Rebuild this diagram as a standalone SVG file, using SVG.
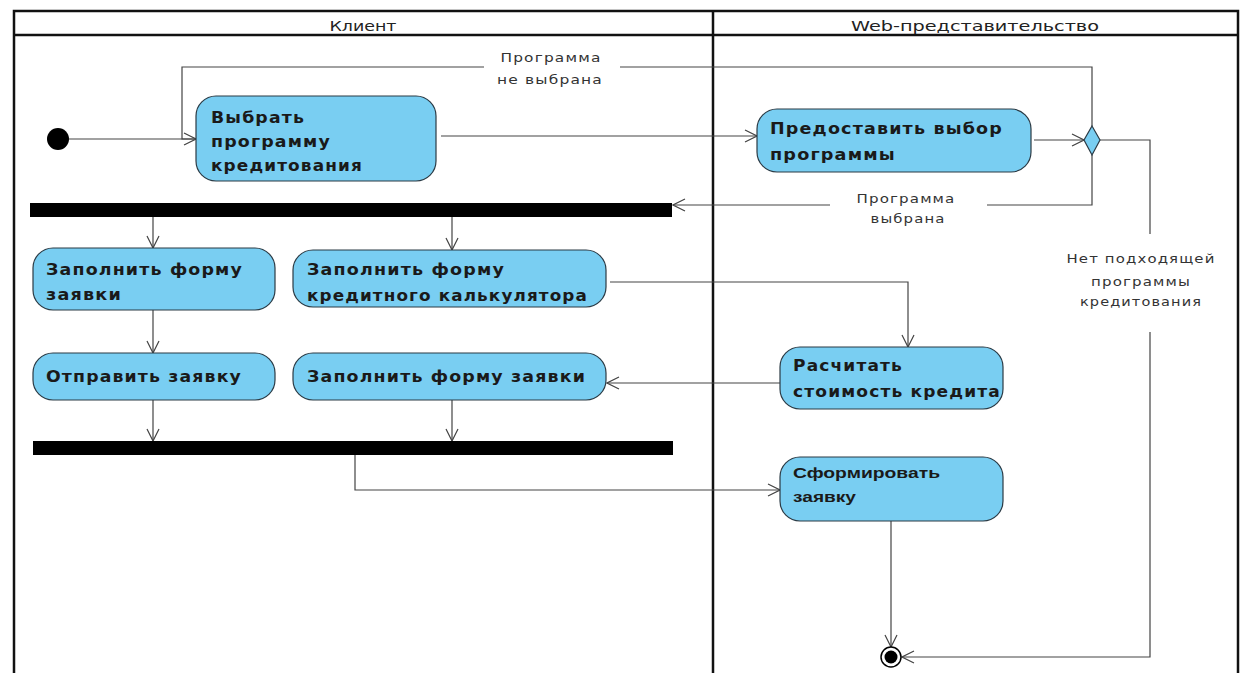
<svg xmlns="http://www.w3.org/2000/svg" width="1249" height="673" viewBox="0 0 1249 673">
  <style>
    .lane { fill: none; stroke: #111; stroke-width: 2.5; }
    .lane-title { font-family: "DejaVu Sans", "Liberation Sans", sans-serif; font-size: 14px; fill: #222; text-anchor: middle; }
    .act { fill: #79cef2; stroke: #2b3a44; stroke-width: 1.2; }
    .act-text { font-family: "DejaVu Sans", "Liberation Sans", sans-serif; font-size: 15px; font-weight: bold; fill: #1a1a1a; letter-spacing: 1px; }
    .act-text-sm { font-family: "Liberation Sans", Arial, sans-serif; font-size: 15px; font-weight: bold; fill: #1a1a1a; }
    .guard { font-family: "DejaVu Sans", "Liberation Sans", sans-serif; font-size: 13px; fill: #333; text-anchor: middle; letter-spacing: 1px; }
    .flow { fill: none; stroke: #444; stroke-width: 1.2; }
    .bar { fill: #000; }
  </style>
  <defs>
    <marker id="open-arrow" markerUnits="userSpaceOnUse" markerWidth="14" markerHeight="14" refX="13" refY="7" orient="auto">
      <path d="M1,1 L13,7 L1,13" fill="none" stroke="#444" stroke-width="1.2"/>
    </marker>
  </defs>

  <!-- swimlanes -->
  <g id="swimlanes">
    <rect x="14" y="11" width="1224" height="680" class="lane"/>
    <line x1="14" y1="35" x2="1238" y2="35" class="lane"/>
    <line x1="713" y1="11" x2="713" y2="673" class="lane"/>
    <text x="363" y="31" class="lane-title" textLength="67" lengthAdjust="spacingAndGlyphs">Клиент</text>
    <text x="975" y="31" class="lane-title" textLength="248" lengthAdjust="spacingAndGlyphs">Web-представительство</text>
  </g>

  <!-- connectors -->
  <g id="connectors">
    <line x1="69" y1="139" x2="196" y2="139" class="flow" marker-end="url(#open-arrow)"/>
    <path d="M1092,126 V67 H620 M484,67 H182 V139 H196" class="flow"/>
    <line x1="441" y1="136" x2="757" y2="136" class="flow" marker-end="url(#open-arrow)"/>
    <line x1="1034" y1="140" x2="1084" y2="140" class="flow" marker-end="url(#open-arrow)"/>
    <path d="M1092,155 V205 H987" class="flow"/>
    <line x1="830" y1="205" x2="673" y2="205" class="flow" marker-end="url(#open-arrow)"/>
    <path d="M1100,140 H1150 V234" class="flow"/>
    <path d="M1150,332 V657 H902" class="flow" marker-end="url(#open-arrow)"/>
    <line x1="153" y1="217" x2="153" y2="248" class="flow" marker-end="url(#open-arrow)"/>
    <line x1="452" y1="217" x2="452" y2="250" class="flow" marker-end="url(#open-arrow)"/>
    <line x1="153" y1="310" x2="153" y2="353" class="flow" marker-end="url(#open-arrow)"/>
    <path d="M610,282 H908 V347" class="flow" marker-end="url(#open-arrow)"/>
    <line x1="780" y1="383" x2="607" y2="383" class="flow" marker-end="url(#open-arrow)"/>
    <line x1="153" y1="400" x2="153" y2="441" class="flow" marker-end="url(#open-arrow)"/>
    <line x1="452" y1="400" x2="452" y2="441" class="flow" marker-end="url(#open-arrow)"/>
    <path d="M355,455 V490 H780" class="flow" marker-end="url(#open-arrow)"/>
    <line x1="891" y1="521" x2="891" y2="647" class="flow" marker-end="url(#open-arrow)"/>
    <text x="551" y="62" class="guard" textLength="101" lengthAdjust="spacingAndGlyphs">Программа</text>
    <text x="550" y="84" class="guard" textLength="106" lengthAdjust="spacingAndGlyphs">не выбрана</text>
    <text x="906" y="203" class="guard" textLength="99" lengthAdjust="spacingAndGlyphs">Программа</text>
    <text x="908" y="223" class="guard" textLength="75" lengthAdjust="spacingAndGlyphs">выбрана</text>
    <text x="1141" y="263" class="guard" textLength="149" lengthAdjust="spacingAndGlyphs">Нет подходящей</text>
    <text x="1141" y="286" class="guard" textLength="100" lengthAdjust="spacingAndGlyphs">программы</text>
    <text x="1141" y="306" class="guard" textLength="122" lengthAdjust="spacingAndGlyphs">кредитования</text>
  </g>

  <g id="start">
    <circle cx="58" cy="139" r="11" fill="#000"/>
  </g>

  <g id="choose-program">
    <rect x="196" y="96" width="240" height="85" rx="20" class="act"/>
    <text x="211" y="123" class="act-text" textLength="94" lengthAdjust="spacingAndGlyphs">Выбрать</text>
    <text x="211" y="147" class="act-text" textLength="120" lengthAdjust="spacingAndGlyphs">программу</text>
    <text x="211" y="171" class="act-text" textLength="152" lengthAdjust="spacingAndGlyphs">кредитования</text>
  </g>

  <g id="offer-programs">
    <rect x="757" y="109" width="274" height="63" rx="20" class="act"/>
    <text x="770" y="134" class="act-text" textLength="233" lengthAdjust="spacingAndGlyphs">Предоставить выбор</text>
    <text x="770" y="160" class="act-text" textLength="126" lengthAdjust="spacingAndGlyphs">программы</text>
  </g>

  <g id="decision">
    <polygon points="1092,126 1100,140 1092,155 1084,140" fill="#79cef2" stroke="#2b3a44" stroke-width="1.2"/>
  </g>

  <g id="fork">
    <rect x="30" y="203" width="642" height="14" class="bar"/>
  </g>

  <g id="fill-application">
    <rect x="33" y="248" width="242" height="62" rx="20" class="act"/>
    <text x="46" y="275" class="act-text" textLength="197" lengthAdjust="spacingAndGlyphs">Заполнить форму</text>
    <text x="46" y="300" class="act-text" textLength="76" lengthAdjust="spacingAndGlyphs">заявки</text>
  </g>

  <g id="fill-calculator">
    <rect x="293" y="250" width="313" height="57" rx="20" class="act"/>
    <text x="307" y="275" class="act-text" textLength="198" lengthAdjust="spacingAndGlyphs">Заполнить форму</text>
    <text x="307" y="301" class="act-text" textLength="281" lengthAdjust="spacingAndGlyphs">кредитного калькулятора</text>
  </g>

  <g id="calculate-cost">
    <rect x="780" y="347" width="223" height="62" rx="20" class="act"/>
    <text x="793" y="371" class="act-text" textLength="110" lengthAdjust="spacingAndGlyphs">Расчитать</text>
    <text x="793" y="397" class="act-text" textLength="208" lengthAdjust="spacingAndGlyphs">стоимость кредита</text>
  </g>

  <g id="send-application">
    <rect x="33" y="353" width="242" height="47" rx="20" class="act"/>
    <text x="46" y="382" class="act-text" textLength="196" lengthAdjust="spacingAndGlyphs">Отправить заявку</text>
  </g>

  <g id="fill-application-2">
    <rect x="293" y="353" width="313" height="47" rx="20" class="act"/>
    <text x="307" y="382" class="act-text" textLength="279" lengthAdjust="spacingAndGlyphs">Заполнить форму заявки</text>
  </g>

  <g id="join">
    <rect x="33" y="441" width="640" height="14" class="bar"/>
  </g>

  <g id="form-application">
    <rect x="780" y="457" width="223" height="64" rx="20" class="act"/>
    <text x="793" y="478" class="act-text-sm" textLength="147" lengthAdjust="spacingAndGlyphs">Сформировать</text>
    <text x="793" y="502" class="act-text-sm" textLength="63" lengthAdjust="spacingAndGlyphs">заявку</text>
  </g>

  <g id="end">
    <circle cx="891" cy="657" r="10" fill="#fff" stroke="#000" stroke-width="1.5"/>
    <circle cx="891" cy="657" r="6.5" fill="#000"/>
  </g>
</svg>
